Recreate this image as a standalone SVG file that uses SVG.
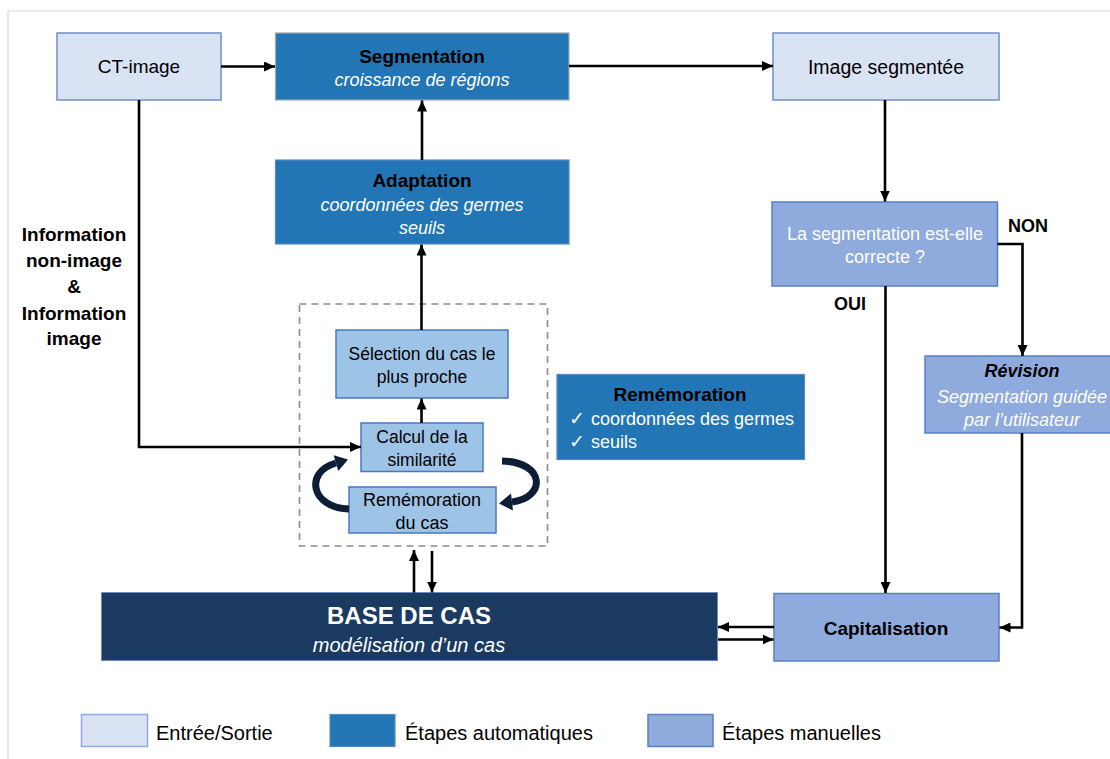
<svg xmlns="http://www.w3.org/2000/svg" width="1110" height="759" viewBox="0 0 1110 759">
<defs>
<marker id="ah" markerUnits="userSpaceOnUse" markerWidth="12" markerHeight="10" refX="11" refY="5" orient="auto">
<path d="M0,0 L11,5 L0,10 z" fill="#000"/>
</marker>
<style>
text{font-family:"Liberation Sans",Arial,sans-serif;text-anchor:middle}
.n{font-size:18px}
.b{font-size:19px;font-weight:bold}
.w{fill:#fff}
.i{font-style:italic}
.io{fill:#DAE3F3;stroke:#6F8FC9;stroke-width:1.5}
.au{fill:#2276B6;stroke:#5B89C6;stroke-width:1.2}
.ma{fill:#8FAADC;stroke:#5B7FC4;stroke-width:1.5}
.lb{fill:#9DC3E6;stroke:#4A78C0;stroke-width:1.5}
.con path{fill:none;stroke:#000;stroke-width:2.6}
.cv{fill:none;stroke:#0C1D36;stroke-width:7}
.lg{font-size:20px;text-anchor:start}
.ck{font-family:"DejaVu Sans",sans-serif;font-size:19px;text-anchor:start;fill:#fff}
</style>
</defs>
<rect width="1110" height="759" fill="#fff"/>
<path d="M8,759 V11 H1110" fill="none" stroke="#D9D9D9" stroke-width="1.2"/>

<g id="ct-image">
<rect class="io" x="57" y="33" width="164" height="67"/>
<text class="n" x="139" y="73" style="font-size:19px">CT-image</text>
</g>
<g id="segmentation">
<rect class="au" x="275.5" y="33" width="293.5" height="67" style="stroke:#A0A8B4"/>
<text class="b" x="422" y="63">Segmentation</text>
<text class="n w i" x="422" y="86">croissance de régions</text>
</g>
<g id="image-segmentee">
<rect class="io" x="773" y="33" width="226" height="67"/>
<text class="n" x="886" y="74" style="font-size:19.5px">Image segmentée</text>
</g>
<g id="adaptation">
<rect class="au" x="275.5" y="160" width="293.5" height="84"/>
<text class="b" x="422" y="187">Adaptation</text>
<text class="n w i" x="422" y="211">coordonnées des germes</text>
<text class="n w i" x="422" y="234">seuils</text>
</g>
<g id="decision">
<rect class="ma" x="772" y="202" width="225.5" height="84"/>
<text class="n w" x="885" y="240">La segmentation est-elle</text>
<text class="n w" x="885" y="263">correcte ?</text>
</g>
<g id="label-non"><text class="n" x="1028" y="232" style="font-weight:bold">NON</text></g>
<g id="label-oui"><text class="n" x="850" y="310" style="font-weight:bold">OUI</text></g>
<g id="revision">
<rect class="ma" x="925" y="356" width="195" height="77"/>
<text class="n i" x="1022" y="377" style="font-weight:bold">Révision</text>
<text class="n w i" x="1022" y="403">Segmentation guidée</text>
<text class="n w i" x="1022" y="426">par l’utilisateur</text>
</g>
<g id="information-label">
<text class="b" x="74" y="241">Information</text>
<text class="b" x="74" y="267">non-image</text>
<text class="b" x="74" y="293">&amp;</text>
<text class="b" x="74" y="320">Information</text>
<text class="b" x="74" y="345">image</text>
</g>
<g id="remem-group">
<rect x="299.5" y="304" width="248" height="242" fill="none" stroke="#8C8C8C" stroke-width="1.6" stroke-dasharray="7,5"/>
</g>
<g id="selection">
<rect class="lb" x="336" y="330" width="172" height="68"/>
<text class="n" x="422" y="360" style="font-size:17.5px">Sélection du cas le</text>
<text class="n" x="422" y="383" style="font-size:17.5px">plus proche</text>
</g>
<g id="calcul">
<rect class="lb" x="361" y="423" width="122" height="48.5"/>
<text class="n" x="422" y="443" style="font-size:17.5px">Calcul de la</text>
<text class="n" x="422" y="466" style="font-size:17.5px">similarité</text>
</g>
<g id="rememoration-cas">
<rect class="lb" x="349" y="487" width="147" height="46"/>
<text class="n" x="422" y="506">Remémoration</text>
<text class="n" x="422" y="529">du cas</text>
</g>
<g id="cycle-arrows">
<path class="cv" d="M349,509 C311,508 304,472 336,463"/>
<path d="M348,459.5 L338.3,471 L333.7,455.2 z" fill="#0C1D36"/>
<path class="cv" d="M502,461 C546,462 546,498 512,502"/>
<path d="M499,503.5 L513,510.5 L511,493.5 z" fill="#0C1D36"/>
</g>
<g id="rememoration">
<rect class="au" x="557" y="374.5" width="247.5" height="85"/>
<text class="b" x="680" y="401">Remémoration</text>
<text class="ck" x="569" y="425">✓</text>
<text class="n w" x="591" y="425" style="text-anchor:start">coordonnées des germes</text>
<text class="ck" x="569" y="448">✓</text>
<text class="n w" x="591" y="448" style="text-anchor:start">seuils</text>
</g>
<g id="base-de-cas">
<rect x="101.5" y="592.5" width="616" height="68" fill="#1A3A62" stroke="#6A8CC7" stroke-width="1"/>
<text class="w" x="409" y="624" style="font-size:24px;font-weight:bold">BASE DE CAS</text>
<text class="w i" x="409" y="652" style="font-size:20px">modélisation d’un cas</text>
</g>
<g id="capitalisation">
<rect class="ma" x="774" y="593.5" width="225" height="67.5"/>
<text class="b" x="886" y="635">Capitalisation</text>
</g>

<g id="connectors" class="con">
<path d="M221,66.5 H275" marker-end="url(#ah)"/>
<path d="M569,66 H773" marker-end="url(#ah)"/>
<path d="M422,160 V100.5" marker-end="url(#ah)"/>
<path d="M421.5,330 V244.5" marker-end="url(#ah)"/>
<path d="M421.5,423 V398.5" marker-end="url(#ah)"/>
<path d="M139,100 V447 H361" marker-end="url(#ah)"/>
<path d="M885,100 V201.5" marker-end="url(#ah)"/>
<path d="M885.5,286 V593" marker-end="url(#ah)"/>
<path d="M997.5,244 H1022.5 V356" marker-end="url(#ah)"/>
<path d="M1022,433 V627.5 H999.5" marker-end="url(#ah)"/>
<path d="M774,627 H718" marker-end="url(#ah)"/>
<path d="M718,639.5 H773.5" marker-end="url(#ah)"/>
<path d="M414,592.5 V550" marker-end="url(#ah)"/>
<path d="M432,551 V592.5" marker-end="url(#ah)"/>
</g>

<g id="legend">
<rect class="io" x="81.5" y="714.5" width="66" height="32" style="stroke:#8FAADC"/>
<text class="lg" x="156" y="740">Entrée/Sortie</text>
<rect class="au" x="330" y="714.5" width="65" height="32"/>
<text class="lg" x="405" y="740">Étapes automatiques</text>
<rect class="ma" x="648" y="714.5" width="65" height="32"/>
<text class="lg" x="722" y="740">Étapes manuelles</text>
</g>
</svg>
